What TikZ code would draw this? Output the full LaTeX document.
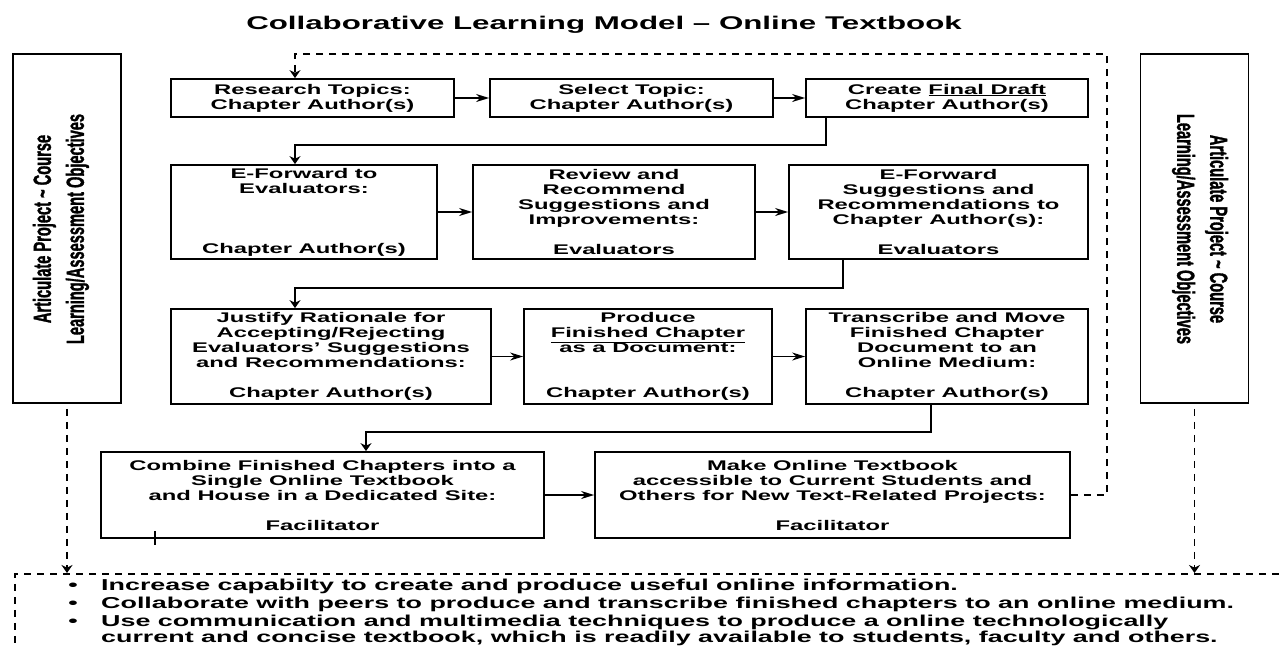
\documentclass[tikz,border=0pt]{standalone}
\usepackage{fontspec}
\setmainfont{Liberation Sans}[FakeStretch=1.7]
\newfontfamily\rotfont{Liberation Sans}[FakeStretch=0.59, BoldFeatures={FakeBold=1.2}]
\usetikzlibrary{arrows.meta}
\begin{document}
\begin{tikzpicture}[x=1pt,y=-1pt,
  box/.style={draw, line width=1.8pt, inner sep=0pt, align=center,
    font=\fontsize{14}{15}\selectfont\bfseries},
  rowone/.style={box, minimum height=38pt},
  rowtwo/.style={box, minimum height=94pt},
  rowthree/.style={box, minimum height=95pt},
  rowfour/.style={box, minimum height=86pt},
  sidebox/.style={box, minimum width=108pt, minimum height=349pt},
  sidetxt/.style={align=center, inner sep=0pt, font=\rotfont\fontsize{24.8}{33}\selectfont\bfseries},
  harr/.style={line width=1.4pt, -{Stealth[length=13pt,width=8pt]}},
  varr/.style={line width=1.4pt, -{Stealth[length=8pt,width=11pt]}},
  dline/.style={line width=1.6pt, dash pattern=on 7pt off 6pt},
  goaltxt/.style={inner sep=0pt, font=\fontsize{15.8}{18}\selectfont\bfseries},
]
\useasboundingbox (0,0) rectangle (1281,645);
\clip (0,0) rectangle (1281,645);
\fill[white] (0,0) rectangle (1281,645);

% title
\node[inner sep=0pt, font=\fontsize{18.4}{20}\selectfont\bfseries] (title) at (604,25)
  {Collaborative Learning Model – Online Textbook};

% side boxes
\node[sidebox] (left) at (67,228.5) {};
\node[sidetxt, rotate=90] (lefttxt) at (61,229)
  {Articulate Project \textasciitilde{} Course\\Learning/Assessment Objectives};
\node[sidebox] (right) at (1194.5,228.5) {};
\node[sidetxt, rotate=-90] (righttxt) at (1200,229)
  {Articulate Project \textasciitilde{} Course\\Learning/Assessment Objectives};

% row 1
\node[rowone, minimum width=283pt] (research) at (312.5,98) {Research Topics:\\Chapter Author(s)};
\node[rowone, minimum width=283pt] (select) at (631.5,98) {Select Topic:\\Chapter Author(s)};
\node[rowone, minimum width=282pt] (create) at (947,98) {Create \underline{Final Draft}\\Chapter Author(s)};

% row 2
\node[rowtwo, minimum width=266pt] (eforward) at (304,212)
  {E-Forward to\\Evaluators:\\~\\~\\~\\Chapter Author(s)};
\node[rowtwo, minimum width=282pt] (review) at (614,212)
  {Review and\\Recommend\\Suggestions and\\Improvements:\\~\\Evaluators};
\node[rowtwo, minimum width=299pt] (sugg) at (938.5,212)
  {E-Forward\\Suggestions and\\Recommendations to\\Chapter Author(s):\\~\\Evaluators};

% row 3
\node[rowthree, minimum width=320pt] (justify) at (331,356.5)
  {Justify Rationale for\\Accepting/Rejecting\\Evaluators' Suggestions\\and Recommendations:\\~\\Chapter Author(s)};
\node[rowthree, minimum width=248pt] (produce) at (648,356.5)
  {Produce\\\underline{Finished Chapter}\\as a Document:\\~\\~\\Chapter Author(s)};
\node[rowthree, minimum width=282pt] (transcribe) at (947,356.5)
  {Transcribe and Move\\Finished Chapter\\Document to an\\Online Medium:\\~\\Chapter Author(s)};

% row 4
\node[rowfour, minimum width=443pt] (combine) at (322.5,495)
  {Combine Finished Chapters into a\\Single Online Textbook\\and House in a Dedicated Site:\\~\\Facilitator};
\node[rowfour, minimum width=475pt] (make) at (832.5,495)
  {Make Online Textbook\\accessible to Current Students and\\Others for New Text-Related Projects:\\~\\Facilitator};

% bottom dashed objectives box
\node[dline, draw, inner sep=0pt, minimum width=1300pt, minimum height=120pt, anchor=north west] (goals) at (14,573) {};
\node[goaltxt, anchor=base] (b1) at (73,590) {•};
\node[goaltxt, anchor=base west] (g1) at (101,590) {Increase capabilty to create and produce useful online information.};
\node[goaltxt, anchor=base] (b2) at (73,608) {•};
\node[goaltxt, anchor=base west] (g2) at (101,608) {Collaborate with peers to produce and transcribe finished chapters to an online medium.};
\node[goaltxt, anchor=base] (b3) at (73,626) {•};
\node[goaltxt, anchor=base west] (g3) at (101,626) {Use communication and multimedia techniques to produce a online technologically};
\node[goaltxt, anchor=base west] (g4) at (101,642) {current and concise textbook, which is readily available to students, faculty and others.};

% horizontal arrows
\draw[harr] (research) -- (select);
\draw[harr] (select) -- (create);
\draw[harr] (eforward) -- (review);
\draw[harr] (review) -- (sugg);
\draw[harr] (justify) -- (produce);
\draw[harr] (produce) -- (transcribe);
\draw[harr] (combine) -- (make);

% row-to-row connectors
\coordinate (c1) at (826,145);
\coordinate (e1) at (295,145);
\draw[varr] (create.south -| c1) -- (c1) -- (e1) -- (e1 |- eforward.north);
\coordinate (c2) at (843,288);
\coordinate (e2) at (295,288);
\draw[varr] (sugg.south -| c2) -- (c2) -- (e2) -- (e2 |- justify.north);
\coordinate (c3) at (931,432);
\coordinate (e3) at (366,432);
\draw[varr] (transcribe.south -| c3) -- (c3) -- (e3) -- (e3 |- combine.north);

% dashed feedback loop
\coordinate (d1) at (1107,54);
\coordinate (d2) at (295,54);
\draw[dline, -{Stealth[length=8pt,width=11pt]}] (make.east) -- (make.east -| d1) -- (d1) -- (d2) -- (d2 |- research.north);

% dashed arrows from side boxes
\draw[dline, shorten <=5pt, -{Stealth[length=8pt,width=11pt]}] (left.south) -- (left.south |- goals.north);
\draw[dline, shorten <=5pt, -{Stealth[length=8pt,width=11pt]}] (right.south) -- (right.south |- goals.north);

% small tick on the combine box
\draw[line width=2.5pt] (155,531) -- (155,545);
\end{tikzpicture}
\end{document}
